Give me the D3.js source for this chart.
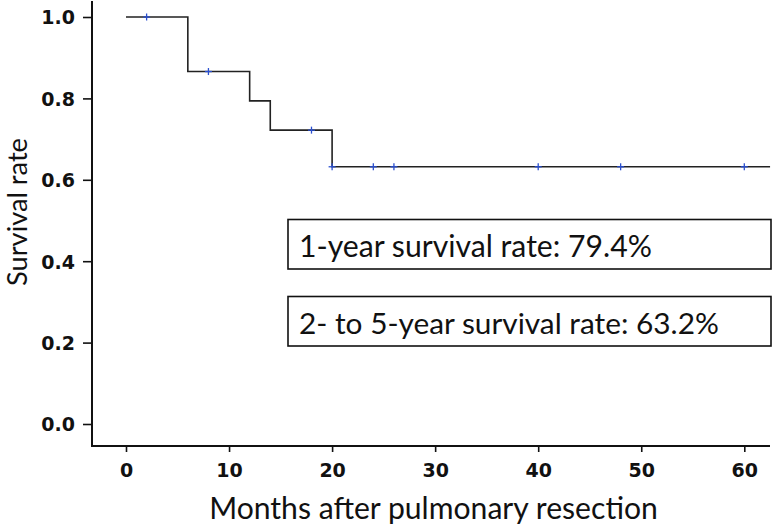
<!DOCTYPE html>
<html lang="en">
<head>
  <meta charset="utf-8">
  <title>Survival after pulmonary resection</title>
  <script src="https://cdn.jsdelivr.net/npm/d3@7"></script>
  <style>
    body { margin: 0; background: #fff; }
    .tick text { font-family: "DejaVu Sans", sans-serif; font-weight: bold; font-size: 19px; fill: #111; }
    .title { font-family: Lato, "Open Sans", sans-serif; fill: #111; }
  </style>
</head>
<body>
  <div class="chart"></div>
  <script>
    var w = 774, h = 530;

    // step curve: time (months) where survival drops, and level after it
    var stepTimes = [0, 6, 12, 14, 20, 62.5];
    var stepValues = [1.0, 0.866, 0.794, 0.722, 0.632, 0.632];
    // censored observations (months)
    var censorTimes = [2, 8, 18, 20, 24, 26, 40, 48, 60];

    var xTicks = [0, 10, 20, 30, 40, 50, 60];
    var yTicks = [0, 0.2, 0.4, 0.6, 0.8, 1.0];
    var boxTexts = ["1-year survival rate: 79.4%", "2- to 5-year survival rate: 63.2%"];

    var svg = d3.select('.chart').append('svg')
      .attr('width', w).attr('height', h);

    var x = d3.scaleLinear().domain([0, 60]).range([126, 744.3]);
    var y = d3.scaleLinear().domain([0, 1]).range([424, 17]);

    var axisLeft = 92, axisBottom = 446;

    // axes
    var yAxis = svg.append('g')
      .attr('transform', 'translate(' + axisLeft + ',0)')
      .call(d3.axisLeft(y).tickValues(yTicks).tickFormat(d3.format('.1f')).tickSize(9).tickPadding(8));
    yAxis.select('.domain').remove();
    yAxis.selectAll('line').attr('stroke', '#111').attr('stroke-width', 1.6);
    yAxis.selectAll('text').attr('dy', '0.36em');

    var xAxis = svg.append('g')
      .attr('transform', 'translate(0,' + axisBottom + ')')
      .call(d3.axisBottom(x).tickValues(xTicks).tickSize(6).tickPadding(10));
    xAxis.select('.domain').remove();
    xAxis.selectAll('line').attr('stroke', '#111').attr('stroke-width', 1.6);
    xAxis.selectAll('text').attr('dy', '0.78em');

    svg.append('line')
      .attr('x1', axisLeft).attr('x2', axisLeft).attr('y1', 1).attr('y2', axisBottom)
      .attr('stroke', '#111').attr('stroke-width', 2);
    svg.append('line')
      .attr('x1', axisLeft - 1).attr('x2', 770).attr('y1', axisBottom).attr('y2', axisBottom)
      .attr('stroke', '#111').attr('stroke-width', 2);

    // survival step line
    var stepData = stepTimes.map(function(t, i) { return [t, stepValues[i]]; });
    var line = d3.line()
      .x(function(d) { return x(d[0]); })
      .y(function(d) { return y(d[1]); })
      .curve(d3.curveStepAfter);
    svg.append('path')
      .datum(stepData)
      .attr('d', line)
      .attr('fill', 'none')
      .attr('stroke', '#222')
      .attr('stroke-width', 1.6);

    // survival value at a given time
    var survAt = function(t) {
      var v = stepValues[0];
      stepTimes.forEach(function(s, i) { if (s <= t) v = stepValues[i]; });
      return v;
    };

    // censor marks
    var marks = svg.append('g').attr('stroke', '#2a4fd0').attr('stroke-width', 1.3);
    censorTimes.forEach(function(t) {
      var cx = x(t), cy = y(survAt(t));
      marks.append('line').attr('x1', cx - 3.5).attr('x2', cx + 3.5).attr('y1', cy).attr('y2', cy);
      marks.append('line').attr('x1', cx).attr('x2', cx).attr('y1', cy - 3.5).attr('y2', cy + 3.5);
    });

    // annotation boxes
    var boxTops = [219.5, 296.5];
    var textWidths = [353, 420];
    boxTexts.forEach(function(txt, i) {
      svg.append('rect')
        .attr('x', 288).attr('y', boxTops[i])
        .attr('width', 483).attr('height', 49.5)
        .attr('fill', 'none').attr('stroke', '#111').attr('stroke-width', 1.6);
      var t = svg.append('text').attr('class', 'title')
        .attr('x', 299).attr('y', boxTops[i] + 37)
        .style('font-size', '27px')
        .text(txt);
      var len = t.node().getComputedTextLength();
      t.style('font-size', (27 * textWidths[i] / len) + 'px');
    });

    // axis titles
    var xt = svg.append('text').attr('class', 'title')
      .attr('x', 433.5).attr('y', 519)
      .attr('text-anchor', 'middle')
      .style('font-size', '27px')
      .text('Months after pulmonary resection');
    xt.style('font-size', (27 * 449 / xt.node().getComputedTextLength()) + 'px');

    var yt = svg.append('text').attr('class', 'title')
      .attr('transform', 'translate(27,212) rotate(-90)')
      .attr('text-anchor', 'middle')
      .style('font-size', '27px')
      .text('Survival rate');
    yt.style('font-size', (27 * 148 / yt.node().getComputedTextLength()) + 'px');
  </script>
</body>
</html>
